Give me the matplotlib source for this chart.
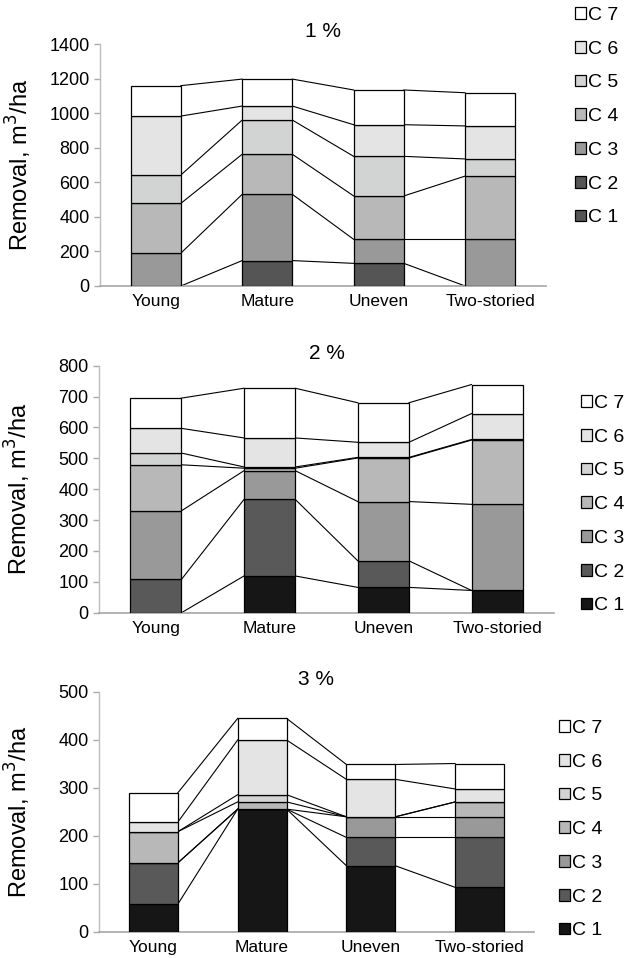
import numpy as np
import matplotlib
matplotlib.use("Agg")
import matplotlib.pyplot as plt

plt.rcParams['font.family'] = ['Liberation Sans', 'DejaVu Sans']

# Stand types on the x axis
stands = ["Young", "Mature", "Uneven", "Two-storied"]
classes = ["C 1", "C 2", "C 3", "C 4", "C 5", "C 6", "C 7"]

# Removal by class (m3/ha), one list per class, values per stand type
# 1 % panel
p1_c1 = [0, 0, 0, 0]
p1_c2 = [0, 147, 131, 0]
p1_c3 = [190, 383, 139, 270]
p1_c4 = [288, 232, 251, 366]
p1_c5 = [164, 198, 229, 99]
p1_c6 = [341, 81, 183, 191]
p1_c7 = [176, 156, 201, 192]

# 2 % panel
p2_c1 = [0, 119, 82, 72]
p2_c2 = [108, 248, 86, 0]
p2_c3 = [222, 93, 192, 279]
p2_c4 = [149, 8, 141, 208]
p2_c5 = [38, 4, 2, 2]
p2_c6 = [80, 94, 49, 84]
p2_c7 = [98, 161, 128, 94]

# 3 % panel
p3_c1 = [58, 256, 138, 93]
p3_c2 = [86, 0, 59, 104]
p3_c3 = [0, 0, 43, 43]
p3_c4 = [65, 15, 0, 31]
p3_c5 = [0, 15, 0, 0]
p3_c6 = [20, 114, 78, 27]
p3_c7 = [61, 45, 31, 53]

colors_dark = ["#555555", "#555555", "#999999", "#b8b8b8", "#d2d4d3", "#e4e4e4", "#ffffff"]
colors_black = ["#161616", "#595959", "#999999", "#b8b8b8", "#d2d4d3", "#e4e4e4", "#ffffff"]

panels = [
    dict(title="1 %", data=[p1_c1, p1_c2, p1_c3, p1_c4, p1_c5, p1_c6, p1_c7],
         colors=colors_dark, ymax=1400, step=200,
         rect=[100 / 625, 1 - 286 / 958, 446 / 625, 242 / 958],
         leg=(575 / 625, 1 - 7 / 958)),
    dict(title="2 %", data=[p2_c1, p2_c2, p2_c3, p2_c4, p2_c5, p2_c6, p2_c7],
         colors=colors_black, ymax=800, step=100,
         rect=[99 / 625, 1 - 612.7 / 958, 455 / 625, 247 / 958],
         leg=(581 / 625, 1 - 395 / 958)),
    dict(title="3 %", data=[p3_c1, p3_c2, p3_c3, p3_c4, p3_c5, p3_c6, p3_c7],
         colors=colors_black, ymax=500, step=100,
         rect=[99 / 625, 1 - 932 / 958, 435 / 625, 240 / 958],
         leg=(559 / 625, 1 - 720 / 958)),
]

fig = plt.figure(figsize=(6.25, 9.58), dpi=100)
width = 0.45
x = np.arange(len(stands))

for p in panels:
    ax = fig.add_axes(p["rect"])
    bottom = np.zeros(len(stands))
    handles = []
    cum = []
    for vals, col, name in zip(p["data"], p["colors"], classes):
        vals = np.array(vals, dtype=float)
        b = ax.bar(x, vals, width, bottom=bottom, color=col, edgecolor="black",
                   linewidth=0.9, label=name, zorder=3)
        handles.append(b)
        bottom = bottom + vals
        cum.append(bottom.copy())

    # series lines joining the stacked tops between neighbouring bars
    for top in cum:
        for i in range(len(stands) - 1):
            ax.plot([x[i] + width / 2, x[i + 1] - width / 2], [top[i], top[i + 1]],
                    color="black", linewidth=0.8, zorder=2)

    ax.set_xlim(-0.5, len(stands) - 0.5)
    ax.set_ylim(0, p["ymax"])
    ax.set_yticks(np.arange(0, p["ymax"] + 1, p["step"]))
    ax.set_xticks(x)
    ax.set_xticklabels(stands, fontsize=12.5)
    ax.tick_params(axis="y", labelsize=13, length=4, color="#aaaaaa", width=1)
    ax.tick_params(axis="x", length=0, pad=6)
    for s in ["top", "right"]:
        ax.spines[s].set_visible(False)
    ax.spines["left"].set_color("#bdbdbd")
    ax.spines["bottom"].set_color("#a6a6a6")
    ax.spines["left"].set_linewidth(1)
    ax.spines["bottom"].set_linewidth(1.2)

    ax.set_title(p["title"], fontsize=15, pad=5)
    ax.set_ylabel("Removal, m$^3$/ha", fontsize=17)
    ax.yaxis.set_label_coords(-66 / (p["rect"][2] * 625), 0.5)

    fig.legend(handles[::-1], classes[::-1], loc="upper left",
               bbox_to_anchor=p["leg"], frameon=False, fontsize=14,
               handlelength=0.55, handleheight=0.55, handletextpad=0.12,
               labelspacing=0.86, borderaxespad=0, borderpad=0)

fig.savefig("out.png", dpi=100)
